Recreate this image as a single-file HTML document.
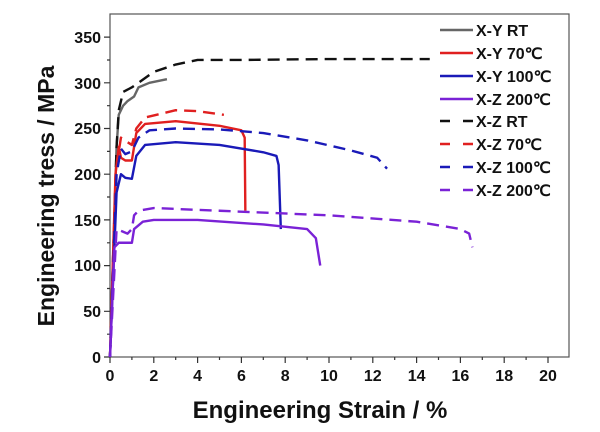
<!DOCTYPE html>
<html><head><meta charset="utf-8"><style>
body{margin:0;background:#fff}
svg{display:block;font-family:"Liberation Sans",Arial,sans-serif;font-weight:bold}
</style></head><body>
<svg width="600" height="432" viewBox="0 0 600 432" xmlns="http://www.w3.org/2000/svg">
<rect x="110" y="14" width="459" height="343" fill="none" stroke="#555" stroke-width="1.2"/>
<g stroke="#333" stroke-width="1.2">
<!-- x ticks -->
<path d="M110 357v6M153.8 357v6M197.6 357v6M241.4 357v6M285.2 357v6M329 357v6M372.8 357v6M416.6 357v6M460.4 357v6M504.2 357v6M548 357v6"/>
<path d="M131.9 357v3M175.7 357v3M219.5 357v3M263.3 357v3M307.1 357v3M350.9 357v3M394.7 357v3M438.5 357v3M482.3 357v3M526.1 357v3"/>
<!-- y ticks -->
<path d="M104 357h6M104 311.3h6M104 265.6h6M104 219.9h6M104 174.2h6M104 128.5h6M104 82.8h6M104 37.1h6"/>
<path d="M107 334.2h3M107 288.5h3M107 242.8h3M107 197h3M107 151.4h3M107 105.7h3M107 60h3"/>
</g>
<g font-size="16" fill="#111" text-anchor="middle">
<text x="110" y="381">0</text><text x="153.8" y="381">2</text><text x="197.6" y="381">4</text><text x="241.4" y="381">6</text><text x="285.2" y="381">8</text><text x="329" y="381">10</text><text x="372.8" y="381">12</text><text x="416.6" y="381">14</text><text x="460.4" y="381">16</text><text x="504.2" y="381">18</text><text x="548" y="381">20</text>
</g>
<g font-size="16" fill="#111" text-anchor="end">
<text x="101" y="363">0</text><text x="101" y="317">50</text><text x="101" y="271">100</text><text x="101" y="226">150</text><text x="101" y="180">200</text><text x="101" y="134">250</text><text x="101" y="89">300</text><text x="101" y="43">350</text>
</g>
<text x="320" y="418" font-size="24" text-anchor="middle" fill="#111">Engineering Strain / %</text>
<text transform="translate(54,196) rotate(-90)" font-size="23" text-anchor="middle" fill="#111">Engineering tress / MPa</text>

<g fill="none" stroke-width="2.4" stroke-linejoin="round">
<g transform="translate(110,357) scale(21.9,-0.914)">
<path vector-effect="non-scaling-stroke" stroke="#666" d="M0 0L0.3 230L0.4 265L0.6 275L0.8 280L1.1 285L1.3 295L1.8 300L2.6 304"/>
<path vector-effect="non-scaling-stroke" stroke="#111" stroke-dasharray="12 7" d="M0 0L0.3 230L0.4 270L0.6 290L1 295L1.3 300L2 312L3 320L4 325L6 325L10 326L14.6 326"/>
<path vector-effect="non-scaling-stroke" stroke="#e02020" d="M0 0L0.25 200L0.4 230L0.5 218L0.7 215L1 215L1.2 245L1.6 255L3 258L5 253L6 248L6.15 240L6.18 160"/>
<path vector-effect="non-scaling-stroke" stroke="#e02020" stroke-dasharray="12 7" d="M0 0L0.3 210L0.5 240L0.8 235L1 232L1.2 250L1.6 262L3 270L4 269L5.2 265"/>
<path vector-effect="non-scaling-stroke" stroke="#1a1ab8" d="M0 0L0.3 180L0.5 200L0.7 196L1 195L1.2 220L1.6 232L3 235L5 232L7 224L7.6 220L7.7 210L7.8 140"/>
<path vector-effect="non-scaling-stroke" stroke="#1a1ab8" stroke-dasharray="12 7" d="M0 0L0.3 200L0.5 228L0.7 222L1 225L1.3 240L1.8 248L3 250L5 249L7 245L9 237L11 226L12.2 218L12.65 206"/>
<path vector-effect="non-scaling-stroke" stroke="#7a22d6" d="M0 0L0.2 120L0.4 125L1 125L1.1 140L1.5 148L2 150L4 150L7 145L9 140L9.4 130L9.6 100"/>
<path vector-effect="non-scaling-stroke" stroke="#7a22d6" stroke-dasharray="12 7" d="M0 0L0.3 140L0.5 138L0.8 135L1 140L1.1 155L1.3 160L2 163L5 160L10 155L14 148L16 140L16.4 135L16.55 120"/>
</g>
</g>
<g stroke-width="2.4">
<path d="M440 30h33" stroke="#666"/>
<path d="M440 53h33" stroke="#e02020"/>
<path d="M440 76h33" stroke="#1a1ab8"/>
<path d="M440 99h33" stroke="#7a22d6"/>
<path d="M440 121h33" stroke="#111" stroke-dasharray="10 13"/>
<path d="M440 144h33" stroke="#e02020" stroke-dasharray="10 13"/>
<path d="M440 167h33" stroke="#1a1ab8" stroke-dasharray="10 13"/>
<path d="M440 190h33" stroke="#7a22d6" stroke-dasharray="10 13"/>
</g>
<g font-size="16" fill="#111">
<text x="476" y="36">X-Y RT</text>
<text x="476" y="59">X-Y 70℃</text>
<text x="476" y="82">X-Y 100℃</text>
<text x="476" y="105">X-Z 200℃</text>
<text x="476" y="127">X-Z RT</text>
<text x="476" y="150">X-Z 70℃</text>
<text x="476" y="173">X-Z 100℃</text>
<text x="476" y="196">X-Z 200℃</text>
</g>
</svg>
</body></html>
